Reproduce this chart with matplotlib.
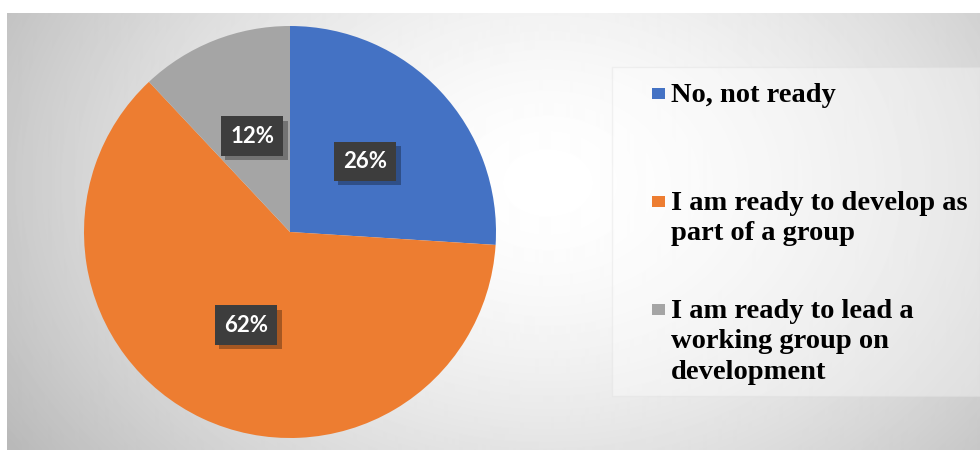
import numpy as np
import matplotlib.pyplot as plt
import matplotlib.patheffects as pe
from matplotlib.patches import Rectangle

labels = ["No, not ready",
          "I am ready to develop as\npart of a group",
          "I am ready to lead a\nworking group on\ndevelopment"]
shares = [26, 62, 12]
colors = ["#4472C4", "#ED7D31", "#A5A5A5"]

W, H = 980, 451
fig = plt.figure(figsize=(W / 100, H / 100), dpi=100)

# radial grey background
bg = fig.add_axes([7 / W, 1 / H, 973 / W, 437 / H])
yy, xx = np.mgrid[0:437, 0:973]
r = np.sqrt(((xx - 540) / 560.0) ** 2 + ((yy - 170) / 420.0) ** 2)
shade = 1.0 - 0.22 * np.clip(r, 0, 1.3) ** 1.6
bg.imshow(shade, cmap="gray", vmin=0, vmax=1, aspect="auto",
          interpolation="bilinear")
bg.axis("off")

# pie
ax = fig.add_axes([84 / W, 13 / H, 412 / W, 412 / H])
wedges, texts, autotexts = ax.pie(
    shares, colors=colors, startangle=90, counterclock=False,
    autopct="%d%%", pctdistance=0.5, radius=1,
    textprops=dict(color="white", fontsize=16, fontweight="bold",
                   family=["Lato", "DejaVu Sans"]))
ax.set_xlim(-1, 1)
ax.set_ylim(-1, 1)
ax.set_aspect("equal")
for t in autotexts:
    t.set_bbox(dict(boxstyle="square,pad=0.42", fc="#3d3d3d", ec="none"))
    t.get_bbox_patch().set_path_effects(
        [pe.SimplePatchShadow(offset=(3, -3), shadow_rgbFace="black", alpha=0.3),
         pe.Normal()])

# legend panel, drawn by hand so the marker sits on the first line
fig.patches.append(Rectangle((612 / W, 55 / H), 368 / W, 329 / H,
                             transform=fig.transFigure, fc="white", alpha=0.35,
                             ec="#dddddd", lw=1, zorder=0))
first_line = [94, 202, 310]   # pixel row of each entry's first line
line_step = 30.5
for lab, col, y0 in zip(labels, colors, first_line):
    fig.patches.append(Rectangle((652 / W, 1 - (y0 + 5) / H), 13 / W, 11 / H,
                                 transform=fig.transFigure, fc=col, ec="none"))
    for j, line in enumerate(lab.split("\n")):
        fig.text(671 / W, 1 - (y0 + 8 + j * line_step) / H, line,
                 va="baseline", ha="left", color="black",
                 family="Liberation Serif", weight="bold", size=20.5)

fig.savefig("out.png", dpi=100, facecolor="white")
